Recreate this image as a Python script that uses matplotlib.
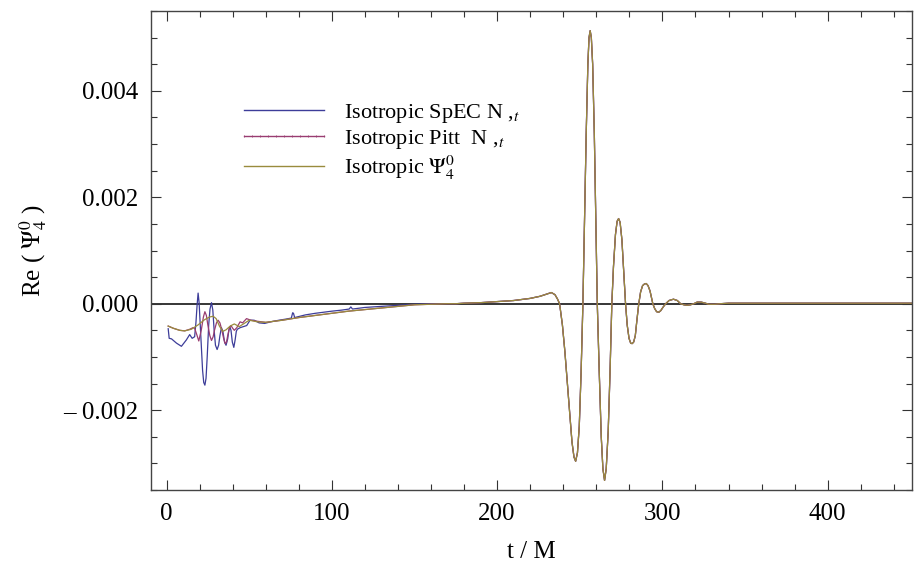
import matplotlib
matplotlib.use("Agg")
import matplotlib.pyplot as plt
from matplotlib.lines import Line2D
from matplotlib.ticker import MultipleLocator, FixedLocator, FixedFormatter

plt.rcParams['font.family'] = ['Liberation Serif', 'DejaVu Serif']
plt.rcParams['mathtext.fontset'] = 'stix'

# ---- data ----
# common part (all three curves coincide here)
t_late = [175, 180, 190, 200, 210, 220, 226, 230, 232.8, 235, 236.5, 237.8, 239.5, 241, 242.5,
          244, 245.3, 246.5, 247.5, 248.6, 249.7, 250.8, 251.9, 252.9, 253.9, 254.9, 255.6,
          256.3, 257.0, 257.8, 258.8, 259.7, 260.6, 261.8, 263.0, 264.0, 265.0, 266.0, 267.2,
          268.3, 269.4, 270.4, 271.6, 272.6, 273.5, 274.4, 275.5, 276.6, 277.7, 278.7, 279.8,
          280.8, 281.7, 282.6, 283.6, 284.6, 285.7, 286.8, 288.0, 289.1, 290.2, 291.3, 292.5,
          293.5, 294.2, 295.3, 296.5, 297.8, 299, 300.5, 302, 304, 306.7, 309, 311, 313, 314.8,
          317, 319, 321, 323.5, 326, 328, 331.7, 335, 340, 360, 400, 455]
v_late = [0.0, 0.00001, 0.00002, 0.00004, 0.00006, 0.0001, 0.00014, 0.00018, 0.00021, 0.00017,
          0.00009, 0.0, -0.0004, -0.0009, -0.0015, -0.0021, -0.0026, -0.00288, -0.00296,
          -0.0028, -0.0023, -0.0013, 0.0, 0.0016, 0.0032, 0.0045, 0.0050, 0.00513, 0.0050,
          0.0045, 0.0032, 0.0016, 0.0, -0.0013, -0.0025, -0.0031, -0.00332, -0.0031, -0.0024,
          -0.0013, 0.0, 0.0007, 0.0013, 0.00155, 0.0016, 0.00153, 0.0012, 0.0006, 0.0,
          -0.0004, -0.00065, -0.00074, -0.00075, -0.00072, -0.0006, -0.0003, 0.0, 0.00022,
          0.00034, 0.00037, 0.00038, 0.00034, 0.00024, 0.0001, 0.0, -0.00009, -0.00015,
          -0.00016, -0.00013, -0.00006, 0.0, 0.00006, 0.000085, 0.00006, 0.0, -0.00002,
          -0.00003, -0.00002, 0.0, 0.00003, 0.00003, 0.00001, -0.00001, -0.00001, 0.0,
          0.00001, 0.00001, 0.00001, 0.00001]

# early part, Isotropic SpEC N,t
t_spec = [1, 1.6, 3, 6, 9, 12, 14, 15.5, 17, 17.8, 18.5, 19.1, 19.7, 20.4, 21, 21.8, 22.5,
          23.2, 23.9, 24.6, 25.5, 26.3, 27.2, 28, 28.8, 29.6, 30.6, 31.5, 32.3, 33.2, 34.1,
          35.1, 36.0, 37.0, 37.7, 38.3, 39.0, 39.8, 40.7, 41.5, 42.2, 42.8, 44.5, 46.5, 48.5,
          50.5, 53, 56, 59.4, 63, 68, 72, 75.5, 76.3, 76.8, 77.5, 84, 90, 100, 106, 110.5,
          111.5, 112.5, 120, 130, 140, 150, 160, 170]
v_spec = [-0.00047, -0.00065, -0.00066, -0.00074, -0.0008, -0.00068, -0.00058, -0.00065,
          -0.00062, -0.00035, -0.00002, 0.0002, 0.00002, -0.0004, -0.0008, -0.00125, -0.00148,
          -0.00153, -0.0014, -0.001, -0.0004, -0.0001, 0.00002, -0.00012, -0.0005, -0.00078,
          -0.00086, -0.00078, -0.0006, -0.00045, -0.00052, -0.00072, -0.00078, -0.00066,
          -0.0005, -0.00043, -0.0005, -0.00072, -0.00082, -0.00068, -0.00052, -0.00048,
          -0.00045, -0.00043, -0.00041, -0.00031, -0.00031, -0.00036, -0.00037, -0.00034,
          -0.00031, -0.00029, -0.00027, -0.00017, -0.00018, -0.00026, -0.00021, -0.00018,
          -0.00014, -0.00012, -0.0001, -0.00006, -0.0001, -0.00007, -0.00005, -0.00003,
          -0.00001, 0.0, 0.0]

# early part, Isotropic Pitt N,t
t_pitt = [1, 4, 8, 11, 14, 16, 17, 18.5, 19.5, 21, 22.3, 23.2, 24.1, 25, 26.2, 27.2, 28.2, 29,
          30.2, 31.2, 32.3, 33.5, 34.6, 35.5, 36.3, 37, 38, 39, 40, 41, 42.5, 44.5, 46, 48.4,
          51, 55, 60, 70, 80, 90, 100, 110, 120, 130, 140, 150, 160, 170]
v_pitt = [-0.00042, -0.00046, -0.0005, -0.00051, -0.00048, -0.00045, -0.00046, -0.0006,
          -0.0007, -0.0005, -0.00025, -0.00015, -0.00022, -0.0004, -0.0006, -0.00069,
          -0.00062, -0.0005, -0.00036, -0.00031, -0.00036, -0.0005, -0.00066, -0.00075,
          -0.00072, -0.0006, -0.00046, -0.00041, -0.00046, -0.0005, -0.00045, -0.00034,
          -0.00036, -0.00028, -0.00031, -0.00033, -0.00035, -0.00031, -0.00026, -0.00022,
          -0.00018, -0.00014, -0.00011, -0.00008, -0.00005, -0.00002, -0.00001, 0.0]

# early part, Isotropic Psi4
t_psi = [1, 4, 8, 11, 15, 19, 23, 26, 28.2, 30, 32, 34, 36, 38.5, 41, 44, 47, 50, 55, 60, 70,
         80, 90, 100, 110, 120, 130, 140, 150, 160, 170]
v_psi = [-0.00042, -0.00046, -0.0005, -0.00051, -0.00048, -0.0004, -0.0003, -0.00025,
         -0.000235, -0.00028, -0.00042, -0.00052, -0.00049, -0.00042, -0.00038, -0.00043,
         -0.00037, -0.00031, -0.00034, -0.00035, -0.00031, -0.00026, -0.00022, -0.00018,
         -0.00014, -0.00011, -0.00008, -0.00005, -0.00002, -0.00001, 0.0]

labels = [r"Isotropic SpEC N ,$_{t}$", r"Isotropic Pitt  N ,$_{t}$", r"Isotropic $\Psi_4^0$"]
colors = ["#3d3d99", "#993d71", "#998b3d"]

y_ticks = [-0.002, 0.0, 0.002, 0.004]
y_ticklabels = ["\u2013 0.002", "0.000", "0.002", "0.004"]
x_ticks = [0, 100, 200, 300, 400]

# ---- figure ----
fig = plt.figure(figsize=(9.15, 5.63), dpi=100)
ax = fig.add_axes([151/915, 73/563, 761/915, 479/563])

series = [(t_spec, v_spec), (t_pitt, v_pitt), (t_psi, v_psi)]
for (t, v), c in zip(series, colors):
    ax.plot(t + t_late, v + v_late, color=c, lw=0.9)

ax.axhline(0, color="black", lw=1.1, zorder=1)

ax.set_xlim(-9.4, 451)
ax.set_ylim(-0.0035, 0.0055)

ax.xaxis.set_major_locator(FixedLocator(x_ticks))
ax.xaxis.set_minor_locator(MultipleLocator(20))
ax.yaxis.set_major_locator(FixedLocator(y_ticks))
ax.yaxis.set_major_formatter(FixedFormatter(y_ticklabels))
ax.yaxis.set_minor_locator(MultipleLocator(0.0005))
ax.tick_params(which="both", direction="in", top=True, right=True, colors="#333333",
               labelcolor="black", labelsize=18, width=0.8)
ax.tick_params(which="major", length=7, pad=9)
ax.tick_params(which="minor", length=4)
for s in ax.spines.values():
    s.set_color("#444444")
    s.set_linewidth(1.0)

ax.set_xlabel("t / M", fontsize=18, labelpad=12)
ax.set_ylabel(r"Re ( $\Psi_4^0$ )", fontsize=18, labelpad=10)

handles = [Line2D([], [], color=colors[0], lw=1.0),
           Line2D([], [], color=colors[1], lw=1.0, marker="|", markersize=2,
                  markeredgewidth=0.6),
           Line2D([], [], color=colors[2], lw=1.0)]
leg = ax.legend(handles, labels, loc="upper left", bbox_to_anchor=(0.114, 0.81),
                frameon=False, fontsize=16, handlelength=4.2, handletextpad=0.6,
                labelspacing=0.12, borderpad=0, borderaxespad=0, numpoints=11)

fig.savefig("out.png", dpi=100)
